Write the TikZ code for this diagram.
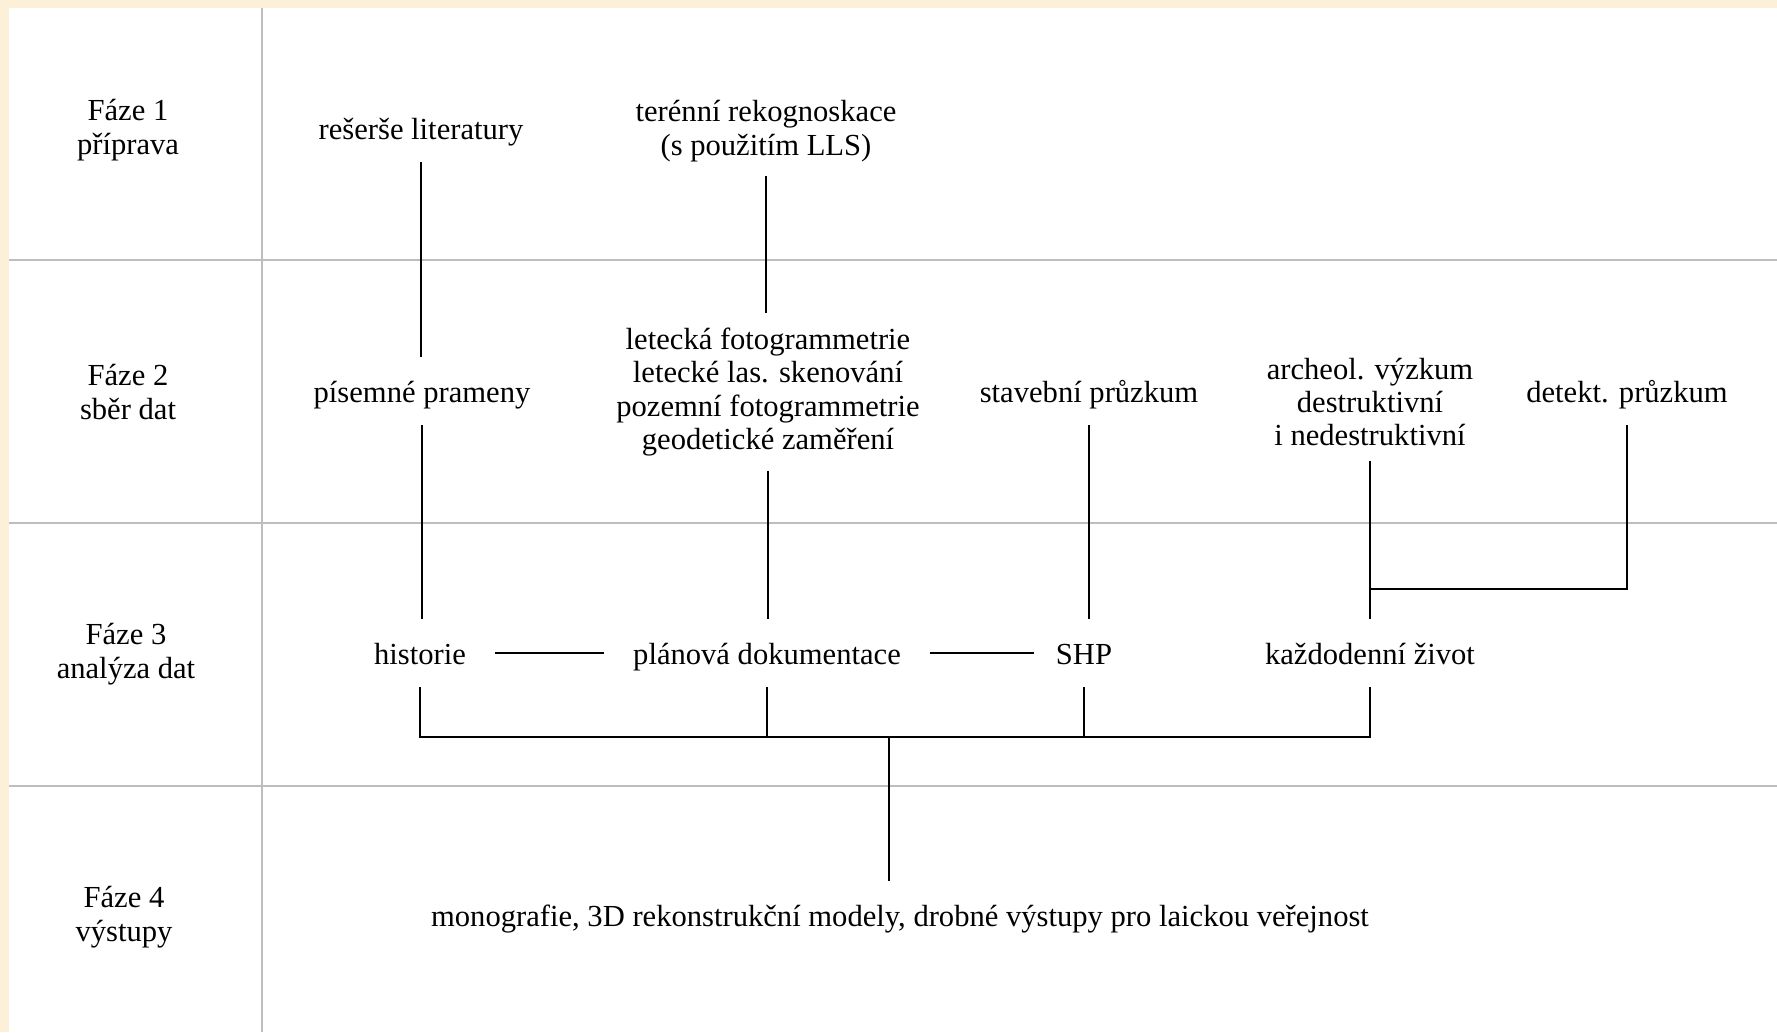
\documentclass[tikz,border=0pt]{standalone}
\usepackage{fontspec}
\setmainfont{Liberation Serif}
\definecolor{cream}{RGB}{252,240,216}
\definecolor{rule}{RGB}{190,190,190}
\begin{document}
\begin{tikzpicture}[x=0.01cm, y=-0.01cm,
        box/.style={align=center, inner sep=4pt, font=\fontsize{8.7}{9.5}\selectfont},
        single/.style={box, text height=1.9ex, text depth=0.5ex},
        link/.style={draw=black, line width=0.45pt},
        grid/.style={draw=rule, line width=0.5pt}]
        % background and grid
        \fill[cream] (0,0) rectangle (1777,1032);
        \fill[white] (9,8) rectangle (1777,1032);
        \useasboundingbox (0,0) rectangle (1777,1032);
        \foreach \y in {260,523,786}{
            \draw[grid] (9,\y)--(1777,\y);
        }
        \draw[grid] (262,8)--(262,1032);

        % phases
        \node[box] (f1) at (128,130) {Fáze 1\\příprava};
        \node[box] (f2) at (128,392) {Fáze 2\\sběr dat};
        \node[box] (f3) at (126,654) {Fáze 3\\analýza dat};
        \node[box] (f4) at (124,917) {Fáze 4\\výstupy};

        % phase 1
        \node[single] (res) at (421,128) {rešerše literatury};
        \node[box] (ter) at (766,131) {terénní rekognoskace\\(s použitím LLS)};

        % phase 2
        \node[single] (pis) at (422,391) {písemné prameny};
        \node[box] (let) at (768,392) {letecká fotogrammetrie\\letecké las. skenování\\pozemní fotogrammetrie\\geodetické zaměření};
        \node[single] (sta) at (1089,391) {stavební průzkum};
        \node[box] (arc) at (1370,402) {archeol. výzkum\\destruktivní\\i nedestruktivní};
        \node[single] (det) at (1627,391) {detekt. průzkum};

        % phase 3
        \node[single] (his) at (420,653) {historie};
        \node[single] (pla) at (767,653) {plánová dokumentace};
        \node[single] (shp) at (1084,653) {SHP};
        \node[single] (kaz) at (1370,653) {každodenní život};

        % phase 4
        \node[single] (mon) at (900,915) {monografie, 3D rekonstrukční modely, drobné výstupy pro laickou veřejnost};

        \coordinate (join) at (1370,589);
        \coordinate (bus) at (889,737);

        % connectors
        \draw[link] (res.south) -- (res.south |- pis.north);
        \draw[link] (pis.south) -- (pis.south |- his.north);
        \draw[link] (ter.south) -- (ter.south |- let.north);
        \draw[link] (let.south) -- (let.south |- pla.north);
        \draw[link] (sta.south) -- (sta.south |- shp.north);
        \draw[link] (arc.south) -- (kaz.north);
        \draw[link] (det.south) |- (join);

        \draw[link, shorten <=4pt, shorten >=4pt] (his.east) -- (pla.west);
        \draw[link, shorten <=4pt, shorten >=2pt] (pla.east) -- (shp.west);

        \draw[link] (his.south) |- (bus) -| (kaz.south);
        \draw[link] (pla.south) -- (pla.south |- bus);
        \draw[link] (shp.south) -- (shp.south |- bus);
        \draw[link] (bus) -- (bus |- mon.north);
\end{tikzpicture}
\end{document}
